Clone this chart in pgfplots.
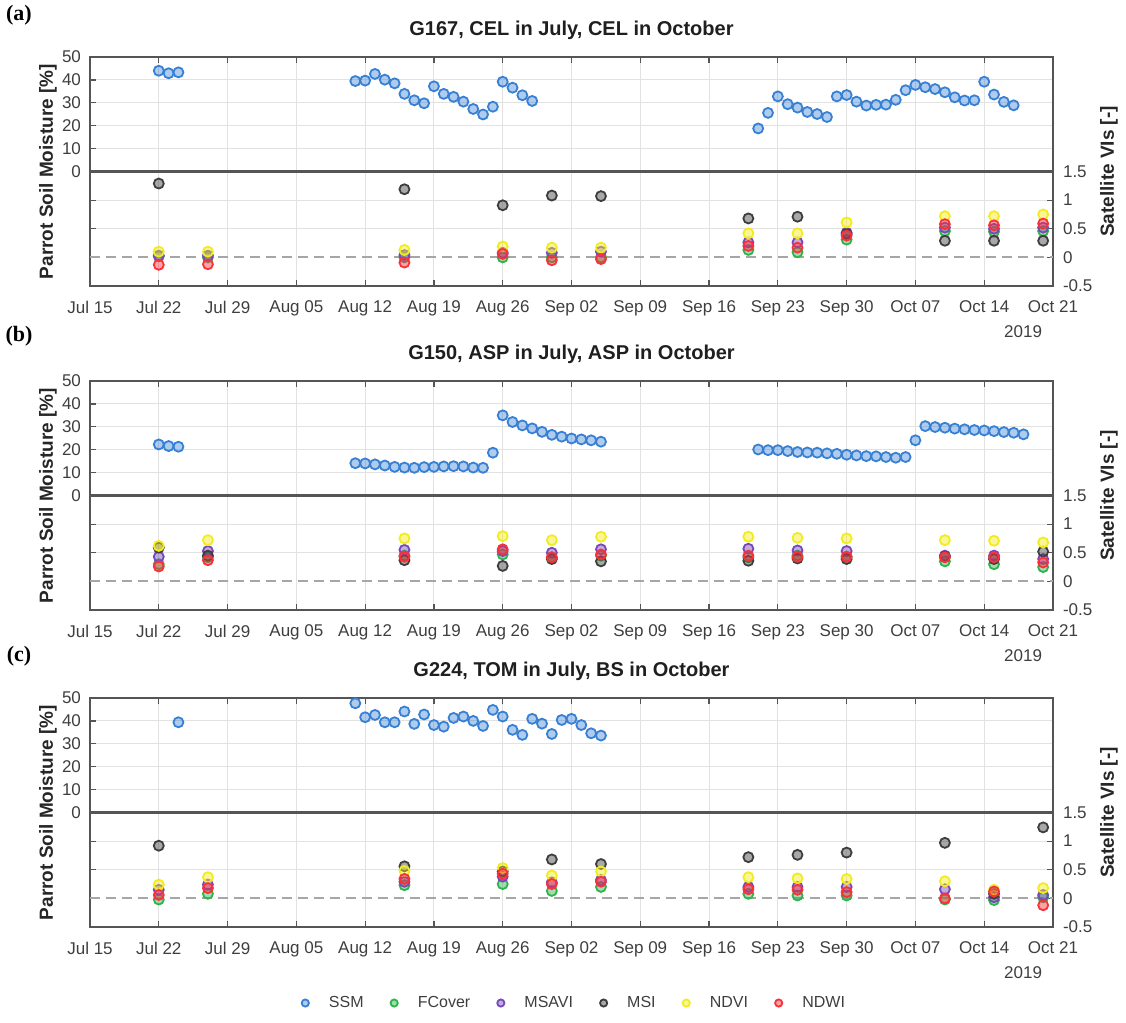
\documentclass[border=0pt]{standalone}
\usepackage{pgfplots}
\pgfplotsset{compat=1.18}
\usepackage{fontspec}
\setmainfont{Liberation Sans}
\newfontfamily\panelfont{Liberation Serif}

\definecolor{cSSM}{RGB}{55,128,212}
\definecolor{cFC}{RGB}{45,180,75}
\definecolor{cMSAVI}{RGB}{120,72,185}
\definecolor{cMSI}{RGB}{62,62,62}
\definecolor{cNDVI}{RGB}{242,236,30}
\definecolor{cNDWI}{RGB}{250,48,58}
\definecolor{gridgrey}{RGB}{226,226,226}
\definecolor{axisgrey}{RGB}{85,85,85}
\definecolor{labelgrey}{RGB}{62,62,62}

\newcommand{\tickfont}{\fontsize{8.5}{10}\selectfont}

\tikzset{
  zeroline/.style={axisgrey, line width=1.1pt},
  vizero/.style={black!35, line width=0.9pt, dash pattern=on 5pt off 3pt},
  yearlabel/.style={font=\tickfont, text=labelgrey, anchor=center, yshift=-23pt},
  panellabel/.style={font=\panelfont\bfseries\fontsize{11}{13}\selectfont},
}

\pgfplotsset{
  panel/.style={
    scale only axis, width=481.5pt, height=114.5pt, anchor=north west,
    xmin=0, xmax=98, xtick={0,7,...,98},
    xticklabels={Jul 15,Jul 22,Jul 29,Aug 05,Aug 12,Aug 19,Aug 26,Sep 02,Sep 09,Sep 16,Sep 23,Sep 30,Oct 07,Oct 14,Oct 21},
    tick align=inside, major tick length=3pt,
    tick style={axisgrey, line width=0.6pt},
    axis line style={axisgrey, line width=0.9pt},
    ticklabel style={font=\tickfont, text=labelgrey},
    /pgf/number format/assume math mode=true,
    label style={font=\bfseries\fontsize{9.5}{11}\selectfont, text=black!85},
  },
  ssm/.style={panel, clip=false,
    ymin=-50, ymax=50,
    ytick={-25,-12.5,0,10,20,30,40,50},
    yticklabels={,,0,10,20,30,40,50},
    ytick pos=left, xtick pos=both,
    grid=major, major grid style={gridgrey, line width=0.5pt},
    xticklabel style={yshift=-4pt},
    yticklabel style={xshift=-1pt},
    ylabel={Parrot Soil Moisture [\%]},
    ylabel style={at={(axis description cs:-0.0436,0.5)}, anchor=center},
    title style={at={(0.5,1)}, anchor=base, yshift=5pt,
      font=\bfseries\fontsize{10}{12}\selectfont, text=black!88},
  },
  vi/.style={panel,
    ymin=-0.5, ymax=3.5,
    ytick={-0.5,0,0.5,1,1.5},
    yticklabels={-0.5,0,0.5,1,1.5},
    axis y line*=right, axis x line=none,
    yticklabel style={xshift=1.5pt, anchor=west},
    ylabel={Satellite VIs [-]},
    ylabel style={at={(axis description cs:1.058,0.5)}, anchor=center},
  },
  ssmmark/.style={only marks, mark=*, mark size=2.5pt, color=cSSM,
    mark options={draw=cSSM, fill=cSSM, fill opacity=0.4, line width=0.9pt}},
  vimark/.style={only marks, mark=*, mark size=2.5pt, color=#1,
    mark options={draw=#1, fill=#1, fill opacity=0.45, line width=0.9pt}},
}

\begin{document}
\begin{tikzpicture}
\useasboundingbox (0,0) rectangle (563pt,-511.5pt);

% ---------------- (a) G167 ----------------
\node[panellabel] at (9.5pt,-7.5pt) {(a)};
\begin{axis}[ssm, at={(45pt,-28.5pt)}, title={G167, CEL in July, CEL in October}]
\draw[zeroline] (axis cs:0,0) -- (axis cs:98,0);
\addplot[ssmmark] coordinates {
(7,44.0) (8,42.9) (9,43.3)
(27,39.5) (28,39.7) (29,42.6) (30,40.1) (31,38.5) (32,33.9) (33,31.1) (34,29.8)
(35,37.2) (36,33.9) (37,32.6) (38,30.5) (39,27.3) (40,24.9) (41,28.3) (42,39.2)
(43,36.6) (44,33.3) (45,30.8)
(68,18.8) (69,25.6) (70,32.8) (71,29.4) (72,27.9) (73,26.0) (74,25.1) (75,23.8)
(76,32.8) (77,33.4) (78,30.5) (79,28.8) (80,29.1) (81,29.2) (82,31.3) (83,35.5)
(84,37.8) (85,36.8) (86,36.0) (87,34.6) (88,32.4) (89,31.0) (90,31.1) (91,39.2)
(92,33.6) (93,30.4) (94,28.9)};
\node[yearlabel] at (rel axis cs:0.969,0) {2019};
\end{axis}
\begin{axis}[vi, at={(45pt,-28.5pt)}]
\draw[vizero] (axis cs:0,0) -- (axis cs:98,0);
\addplot[vimark=cFC] coordinates {(7,0.02) (12,0.0) (32,0.0) (42,0.0) (47,0.0) (52,0.0) (67,0.13) (72,0.09) (77,0.31) (87,0.46) (92,0.45) (97,0.46)};
\addplot[vimark=cMSAVI] coordinates {(7,0.03) (12,0.03) (32,0.04) (42,0.08) (47,0.08) (52,0.10) (67,0.26) (72,0.26) (77,0.43) (87,0.52) (92,0.50) (97,0.52)};
\addplot[vimark=cMSI] coordinates {(7,1.29) (32,1.19) (42,0.91) (47,1.08) (52,1.07) (67,0.68) (72,0.71) (77,0.41) (87,0.29) (92,0.29) (97,0.29)};
\addplot[vimark=cNDVI] coordinates {(7,0.10) (12,0.10) (32,0.13) (42,0.19) (47,0.17) (52,0.17) (67,0.42) (72,0.42) (77,0.61) (87,0.72) (92,0.72) (97,0.75)};
\addplot[vimark=cNDWI] coordinates {(7,-0.13) (12,-0.12) (32,-0.09) (42,0.06) (47,-0.05) (52,-0.03) (67,0.20) (72,0.17) (77,0.38) (87,0.58) (92,0.56) (97,0.59)};
\end{axis}

% ---------------- (b) G150 ----------------
\node[panellabel] at (9.5pt,-168pt) {(b)};
\begin{axis}[ssm, at={(45pt,-190.5pt)}, title={G150, ASP in July, ASP in October}]
\draw[zeroline] (axis cs:0,0) -- (axis cs:98,0);
\addplot[ssmmark] coordinates {
(7,22.3) (8,21.6) (9,21.3)
(27,14.1) (28,14.0) (29,13.6) (30,13.1) (31,12.5) (32,12.2) (33,12.1) (34,12.4)
(35,12.5) (36,12.7) (37,12.8) (38,12.7) (39,12.2) (40,12.1) (41,18.7) (42,35.0)
(43,32.1) (44,30.6) (45,29.3) (46,27.8) (47,26.5) (48,25.7) (49,24.9) (50,24.5)
(51,24.1) (52,23.5)
(68,20.1) (69,19.8) (70,19.8) (71,19.4) (72,19.0) (73,18.8) (74,18.7) (75,18.4)
(76,18.2) (77,17.8) (78,17.5) (79,17.2) (80,17.1) (81,16.8) (82,16.5) (83,16.8)
(84,24.1) (85,30.3) (86,29.9) (87,29.6) (88,29.2) (89,28.9) (90,28.6) (91,28.4)
(92,28.1) (93,27.7) (94,27.4) (95,26.7)};
\node[yearlabel] at (rel axis cs:0.969,0) {2019};
\end{axis}
\begin{axis}[vi, at={(45pt,-190.5pt)}]
\draw[vizero] (axis cs:0,0) -- (axis cs:98,0);
\addplot[vimark=cFC] coordinates {(7,0.30) (12,0.42) (32,0.45) (42,0.47) (47,0.42) (52,0.45) (67,0.42) (72,0.45) (77,0.43) (87,0.35) (92,0.30) (97,0.25)};
\addplot[vimark=cMSAVI] coordinates {(7,0.43) (12,0.53) (32,0.55) (42,0.53) (47,0.50) (52,0.56) (67,0.57) (72,0.54) (77,0.53) (87,0.45) (92,0.45) (97,0.39)};
\addplot[vimark=cMSI] coordinates {(7,0.59) (12,0.45) (32,0.37) (42,0.27) (47,0.39) (52,0.35) (67,0.36) (72,0.40) (77,0.39) (87,0.43) (92,0.39) (97,0.52)};
\addplot[vimark=cNDVI] coordinates {(7,0.62) (12,0.72) (32,0.75) (42,0.79) (47,0.72) (52,0.78) (67,0.78) (72,0.76) (77,0.75) (87,0.72) (92,0.71) (97,0.68)};
\addplot[vimark=cNDWI] coordinates {(7,0.26) (12,0.37) (32,0.43) (42,0.56) (47,0.42) (52,0.47) (67,0.45) (72,0.43) (77,0.43) (87,0.42) (92,0.42) (97,0.33)};
\end{axis}

% ---------------- (c) G224 ----------------
\node[panellabel] at (9.5pt,-328pt) {(c)};
\begin{axis}[ssm, at={(45pt,-349pt)}, title={G224, TOM in July, BS in October}]
\draw[zeroline] (axis cs:0,0) -- (axis cs:98,0);
\addplot[ssmmark] coordinates {
(9,39.4)
(27,47.7) (28,41.6) (29,42.6) (30,39.4) (31,39.4) (32,44.1) (33,38.7) (34,42.8)
(35,38.2) (36,37.5) (37,41.3) (38,41.9) (39,40.0) (40,37.8) (41,44.8) (42,41.9)
(43,36.1) (44,33.9) (45,40.9) (46,38.8) (47,34.3) (48,40.4) (49,40.9) (50,38.2)
(51,34.6) (52,33.6)};
\node[yearlabel] at (rel axis cs:0.969,0) {2019};
\end{axis}
\begin{axis}[vi, at={(45pt,-349pt)},
  legend style={at={(axis description cs:0.504,-0.332)}, anchor=center,
    draw=none, fill=none, font=\fontsize{8}{9.6}\selectfont, text=labelgrey,
    legend columns=6,
    % odd columns hold the markers, even columns the names
    /tikz/every odd column/.append style={column sep=8pt},
    /tikz/every even column/.append style={column sep=11.5pt}},
  legend image post style={mark size=1.8pt}]
\draw[vizero] (axis cs:0,0) -- (axis cs:98,0);
\addlegendimage{ssmmark}
\addlegendentry{SSM}
\addplot[vimark=cFC] coordinates {(7,-0.02) (12,0.08) (32,0.23) (42,0.25) (47,0.13) (52,0.20) (67,0.08) (72,0.05) (77,0.05) (87,-0.02) (92,-0.03) (97,0.02)};
\addlegendentry{FCover}
\addplot[vimark=cMSAVI] coordinates {(7,0.15) (12,0.24) (32,0.29) (42,0.38) (47,0.28) (52,0.32) (67,0.20) (72,0.20) (77,0.20) (87,0.16) (92,0.02) (97,0.06)};
\addlegendentry{MSAVI}
\addplot[vimark=cMSI] coordinates {(7,0.92) (32,0.56) (42,0.47) (47,0.68) (52,0.60) (67,0.72) (72,0.76) (77,0.80) (87,0.97) (92,0.08) (97,1.24)};
\addlegendentry{MSI}
\addplot[vimark=cNDVI] coordinates {(7,0.24) (12,0.37) (32,0.48) (42,0.53) (47,0.40) (52,0.47) (67,0.37) (72,0.35) (77,0.34) (87,0.30) (92,0.15) (97,0.18)};
\addlegendentry{NDVI}
\addplot[vimark=cNDWI] coordinates {(7,0.06) (12,0.18) (32,0.34) (42,0.43) (47,0.25) (52,0.29) (67,0.16) (72,0.15) (77,0.11) (87,0.00) (92,0.12) (97,-0.12)};
\addlegendentry{NDWI}
\end{axis}
\end{tikzpicture}
\end{document}
